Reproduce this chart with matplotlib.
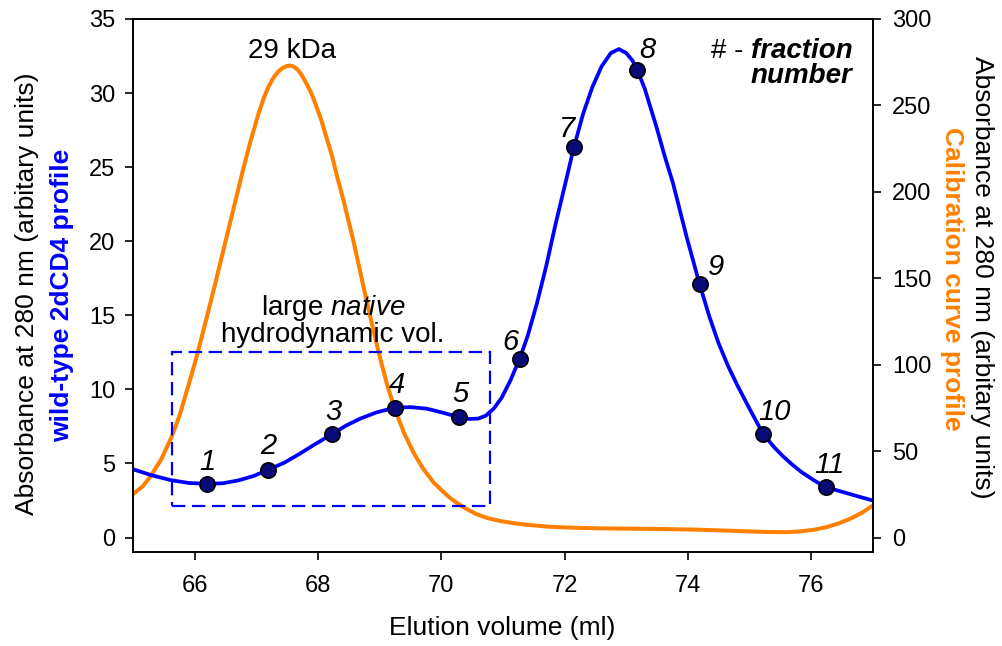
import matplotlib.pyplot as plt
import matplotlib.patches as mpatches
import numpy as np

plt.rcParams['font.family'] = ['Liberation Sans', 'DejaVu Sans']
plt.rcParams['mathtext.fontset'] = 'custom'
plt.rcParams['mathtext.rm'] = 'Liberation Sans'
plt.rcParams['mathtext.it'] = 'Liberation Sans:italic'

# wild-type 2dCD4 elution profile (left axis)
wt_vol = [65.0, 65.3, 65.6, 65.9, 66.19, 66.45, 66.7, 66.95, 67.19, 67.45,
          67.7, 67.95, 68.22, 68.45, 68.68, 68.95, 69.24, 69.5, 69.76, 70.0,
          70.28, 70.45, 70.6, 70.72, 70.85, 70.98, 71.12, 71.27, 71.4, 71.55,
          71.7, 71.85, 72.0, 72.15, 72.3, 72.45, 72.6, 72.75, 72.88, 73.0,
          73.1, 73.18, 73.3, 73.49, 73.62, 73.76, 73.98, 74.19, 74.35, 74.5,
          74.65, 74.8, 75.0, 75.22, 75.4, 75.54, 75.7, 75.85, 76.05, 76.24,
          76.45, 76.7, 77.0]
wt_abs = [4.6, 4.2, 3.88, 3.68, 3.63, 3.66, 3.85, 4.15, 4.57, 5.05,
          5.65, 6.3, 6.96, 7.55, 8.02, 8.45, 8.76, 8.8, 8.7, 8.45,
          8.13, 8.0, 8.03, 8.22, 8.7, 9.45, 10.6, 12.07, 13.6, 15.8,
          18.3, 21.1, 23.7, 26.33, 28.6, 30.4, 31.8, 32.7, 32.97, 32.7,
          32.2, 31.55, 30.3, 27.72, 25.8, 23.9, 20.29, 17.1, 14.9, 13.1,
          11.6, 10.3, 8.7, 7.0, 6.1, 5.5, 4.9, 4.4, 3.85, 3.4,
          3.15, 2.85, 2.5]

# collected fractions
frac_num = ['1', '2', '3', '4', '5', '6', '7', '8', '9', '10', '11']
frac_vol = [66.19, 67.19, 68.22, 69.24, 70.28, 71.27, 72.15, 73.18, 74.19, 75.22, 76.24]
frac_abs = [3.63, 4.57, 6.96, 8.76, 8.13, 12.07, 26.33, 31.55, 17.1, 7.0, 3.4]
# label offsets (points) relative to each marker
frac_dx = [0.2, 0, 1, 2, 1.2, -6.3, -5, 7, 12.2, 8.4, 2.9]
frac_dy = [9.6, 11.7, 10.1, 10.3, 10.6, 6, 7.4, 8.6, 6.5, 9.6, 9.9]

# calibration curve profile (right axis)
cal_vol = [65.0, 65.15, 65.27, 65.45, 65.62, 65.75, 65.87, 66.0, 66.1, 66.2,
           66.33, 66.45, 66.57, 66.68, 66.78, 66.9, 67.03, 67.12, 67.19, 67.27,
           67.35, 67.42, 67.49, 67.55, 67.6, 67.67, 67.73, 67.8, 67.89, 67.97,
           68.05, 68.13, 68.22, 68.31, 68.41, 68.49, 68.57, 68.73, 68.87, 69.0,
           69.13, 69.27, 69.4, 69.55, 69.7, 69.87, 70.0, 70.12, 70.25, 70.41,
           70.57, 70.75, 70.95, 71.15, 71.4, 71.76, 72.2, 72.57, 73.11, 73.6,
           74.19, 74.7, 75.27, 75.6, 75.81, 76.05, 76.25, 76.45, 76.63, 76.82,
           77.0]
cal_abs = [25.3, 29.5, 34.9, 45.0, 58.1, 70.5, 85.0, 101.0, 114.5, 128.5,
           147.0, 164.5, 182.0, 198.0, 212.6, 229.0, 245.0, 254.5, 260.5, 265.8,
           269.5, 271.6, 272.8, 273.0, 272.5, 270.6, 267.7, 263.3, 257.1, 249.5,
           241.7, 232.0, 221.5, 208.5, 195.3, 183.5, 172.0, 146.0, 124.0, 104.5,
           87.0, 71.8, 60.0, 49.0, 40.0, 32.0, 27.5, 23.5, 20.0, 16.5,
           13.5, 11.2, 9.6, 8.4, 7.3, 6.2, 5.6, 5.3, 5.1, 4.9,
           4.5, 3.9, 3.2, 3.1, 3.5, 4.5, 6.0, 8.2, 10.8, 14.2,
           18.5]

blue = '#0000FF'
orange = '#FF8000'

fig = plt.figure(figsize=(10.03, 6.46), dpi=100)
ax1 = fig.add_axes([0.1329, 0.1450, 0.7372, 0.8256])
ax2 = ax1.twinx()
ax1.set_zorder(ax2.get_zorder() + 1)
ax1.patch.set_visible(False)

ax2.plot(cal_vol, cal_abs, color=orange, lw=2.9, solid_joinstyle='round')
ax1.plot(wt_vol, wt_abs, color=blue, lw=2.7, solid_joinstyle='round')
ax1.plot(frac_vol, frac_abs, 'o', color='#0A0A78', mec='black', mew=1.2, ms=11)

for n, x, y, dx, dy in zip(frac_num, frac_vol, frac_abs, frac_dx, frac_dy):
    ax1.annotate(n, (x, y), xytext=(dx, dy), textcoords='offset points',
                 ha='center', va='baseline', fontsize=21, style='italic')

box = mpatches.Rectangle((65.63, 2.16), 70.79 - 65.63, 12.5 - 2.16, fill=False,
                         ec=blue, lw=1.6, ls=(0, (6, 3)))
ax1.add_patch(box)

ax1.set_xlim(65, 77)
ax1.set_ylim(-1, 35)
ax2.set_ylim(-300 / 35, 300)
ax1.set_xticks(np.arange(66, 77, 2))
ax1.set_yticks(np.arange(0, 36, 5))
ax2.set_yticks(np.arange(0, 301, 50))

ax1.tick_params(axis='both', direction='out', length=6, width=1.2, labelsize=17)
ax1.tick_params(axis='x', pad=10)
ax1.tick_params(axis='y', pad=7)
ax2.tick_params(axis='y', direction='out', length=6, width=1.2, labelsize=17, pad=8)
for ax in (ax1, ax2):
    for s in ax.spines.values():
        s.set_linewidth(1.2)

ax1.text(67.57, 32.39, '29 kDa', ha='center', va='baseline', fontsize=20)
ax1.text(68.24, 15.02, r'large $\mathit{native}$', ha='center', va='baseline', fontsize=20)
ax1.text(68.24, 13.22, 'hydrodynamic vol.', ha='center', va='baseline', fontsize=20)

frac_txt = ax1.text(76.67, 32.39, 'fraction', ha='right', va='baseline', fontsize=20,
                    fontweight='bold', style='italic')
ax1.annotate('# - ', xy=(0, 0), xycoords=frac_txt, ha='right', va='bottom', fontsize=20)
ax1.text(76.67, 30.7, 'number', ha='right', va='baseline', fontsize=20,
         fontweight='bold', style='italic')

fig.text(27 / 1003, 1 - 294 / 646, 'Absorbance at 280 nm (arbitary units)',
         rotation=90, ha='center', va='center', fontsize=19)
fig.text(62 / 1003, 1 - 295 / 646, 'wild-type 2dCD4 profile', rotation=90,
         ha='center', va='center', fontsize=19, color=blue, fontweight='bold')
fig.text(982 / 1003, 1 - 277 / 646, 'Absorbance at 280 nm (arbitary units)',
         rotation=270, ha='center', va='center', fontsize=19)
fig.text(952 / 1003, 1 - 279 / 646, 'Calibration curve profile', rotation=270,
         ha='center', va='center', fontsize=19, color=orange, fontweight='bold')
fig.text(502.5 / 1003, 1 - 628 / 646, 'Elution volume (ml)', ha='center', va='center',
         fontsize=19)

fig.savefig('out.png', dpi=100)
